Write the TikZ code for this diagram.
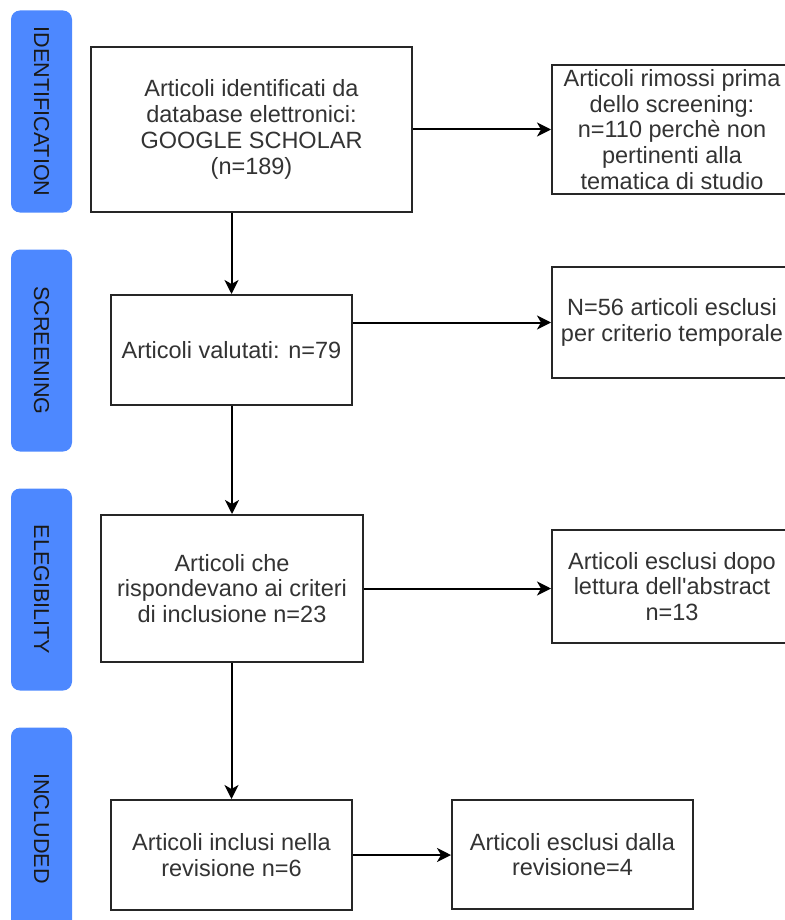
\documentclass[tikz,border=0pt]{standalone}
\usepackage{fontspec}
\setmainfont{Liberation Sans}[Ligatures=TeXOff]
\usetikzlibrary{arrows.meta}
\definecolor{phaseblue}{RGB}{77,136,255}

\begin{document}
\begin{tikzpicture}[x=1pt,y=-1pt,
    box/.style={draw=black!85, line width=2pt, fill=white, align=center,
        inner sep=2pt, text=black!80, font=\fontsize{23.5}{25.8}\selectfont},
    phase/.style={fill=phaseblue, rounded corners=9pt, rotate=-90,
        minimum width=202pt, minimum height=61pt, inner sep=0pt,
        text=black!90, font=\fontsize{21.6}{24}\selectfont},
    arr/.style={-{Stealth[length=14pt,width=14pt,inset=4pt]}, line width=2pt}]
    \useasboundingbox (0,0) rectangle (784,920);

    % Draw phase bars
    \node[phase] (pid) at (41.5,111.5) {IDENTIFICATION};
    \node[phase] (psc) at (41.5,350.5) {SCREENING};
    \node[phase] (pel) at (41.5,589.5) {ELEGIBILITY};
    \node[phase] (pin) at (41.5,828.5) {INCLUDED};

    % Draw main boxes
    \node[box, minimum width=321pt, minimum height=165pt] (ident) at (251.5,129.5)
        {Articoli identificati da\\database elettronici:\\GOOGLE SCHOLAR\\(n=189)};
    \node[box, minimum width=241pt, minimum height=110pt] (screen) at (231.5,350)
        {Articoli valutati: n=79};
    \node[box, minimum width=262pt, minimum height=147pt] (elig) at (232,588.5)
        {Articoli che\\rispondevano ai criteri\\di inclusione n=23};
    \node[box, minimum width=241pt, minimum height=110pt] (incl) at (231.5,855)
        {Articoli inclusi nella\\revisione n=6};

    % Draw excluded boxes
    \node[box, minimum width=240pt, minimum height=129pt] (removed) at (672,129.5)
        {Articoli rimossi prima\\dello screening:\\n=110 perchè non\\pertinenti alla\\tematica di studio};
    \node[box, minimum width=240pt, minimum height=111pt] (temporal) at (672,322.5)
        {N=56 articoli esclusi\\per criterio temporale};
    \node[box, minimum width=240pt, minimum height=113pt] (abstract) at (672,586.5)
        {Articoli esclusi dopo\\lettura dell'abstract\\n=13};
    \node[box, minimum width=241pt, minimum height=109pt] (revis) at (572.5,854.5)
        {Articoli esclusi dalla\\revisione=4};

    % Draw arrows
    \draw[arr] (ident.south -| screen.north) -- (screen.north);
    \draw[arr] (screen.south -| elig.north) -- (elig.north);
    \draw[arr] (elig.south -| incl.north) -- (incl.north);
    \draw[arr] (ident.east) -- (removed.west);
    \draw[arr] (screen.east |- temporal.west) -- (temporal.west);
    \draw[arr] (elig.east) -- (elig.east -| abstract.west);
    \draw[arr] (incl.east) -- (incl.east -| revis.west);
\end{tikzpicture}
\end{document}
